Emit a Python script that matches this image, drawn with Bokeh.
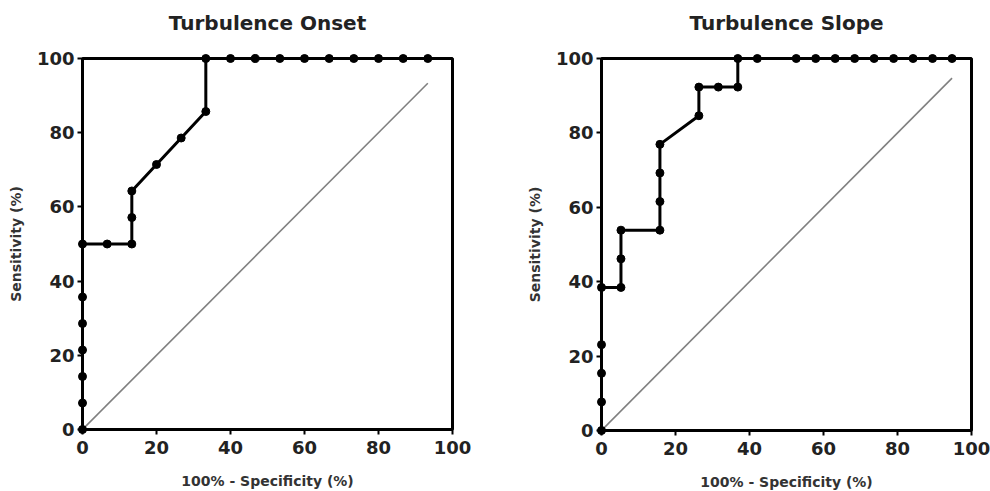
from bokeh.plotting import figure
from bokeh.layouts import row
from bokeh.models import FixedTicker, Range1d, Title
from bokeh.embed import file_html
from bokeh.resources import INLINE

titles = ["Turbulence Onset", "Turbulence Slope"]
x_label = "100% - Specificity (%)"
y_label = "Sensitivity (%)"
ticks = [0, 20, 40, 60, 80, 100]

onset_fpr = [0, 0, 0, 0, 0, 0, 0, 6.67, 13.33, 13.33, 13.33, 20.0, 26.67, 33.33, 33.33,
             40.0, 46.67, 53.33, 60.0, 66.67, 73.33, 80.0, 86.67, 93.33]
onset_tpr = [0, 7.14, 14.29, 21.43, 28.57, 35.71, 50.0, 50.0, 50.0, 57.14, 64.29, 71.43, 78.57, 85.71, 100,
             100, 100, 100, 100, 100, 100, 100, 100, 100]
onset_diag = [0, 93.33]

slope_fpr = [0, 0, 0, 0, 0, 5.26, 5.26, 5.26, 15.79, 15.79, 15.79, 15.79, 26.32, 26.32, 31.58, 36.84, 36.84,
             42.11, 52.63, 57.89, 63.16, 68.42, 73.68, 78.95, 84.21, 89.47, 94.74]
slope_tpr = [0, 7.69, 15.38, 23.08, 38.46, 38.46, 46.15, 53.85, 53.85, 61.54, 69.23, 76.92, 84.62, 92.31, 92.31, 92.31, 100,
             100, 100, 100, 100, 100, 100, 100, 100, 100, 100]
slope_diag = [0, 94.74]

FONT = "DejaVu Sans"


def make_panel(title, fpr, tpr, diag, min_left, min_right, min_top, frame_h):
    p = figure(frame_width=370, frame_height=frame_h,
               x_range=Range1d(0, 100), y_range=Range1d(0, 100),
               output_backend="svg", toolbar_location=None,
               min_border_left=min_left, min_border_right=min_right,
               min_border_top=min_top, min_border_bottom=0,
               background_fill_color="white", border_fill_color="white")
    p.grid.visible = False
    p.outline_line_color = "black"
    p.outline_line_width = 3

    # blank spacer title (closest to frame) lifts the real title
    p.add_layout(Title(text=" ", text_font_size="10px", standoff=11), "above")
    p.add_layout(Title(text=title, align="center", standoff=0,
                       text_font=FONT, text_font_size="20px",
                       text_font_style="bold", text_color="#222222"), "above")

    p.line(diag, diag, color="#808080", line_width=1.6)
    p.line(fpr, tpr, color="black", line_width=3, level="overlay")
    p.scatter(fpr, tpr, size=8, color="black", level="overlay")

    for ax in p.axis:
        ax.ticker = FixedTicker(ticks=ticks)
        ax.axis_line_width = 3
        ax.axis_line_color = "black"
        ax.major_tick_line_width = 2
        ax.major_tick_in = 0
        ax.major_tick_out = 5
        ax.minor_tick_line_color = None
        ax.major_label_text_font = FONT
        ax.major_label_text_font_size = "18px"
        ax.major_label_text_font_style = "bold"
        ax.major_label_text_color = "#222222"
        ax.axis_label_text_font = FONT
        ax.axis_label_text_font_size = "14px"
        ax.axis_label_text_font_style = "bold"
        ax.axis_label_text_color = "#333333"
    p.xaxis.axis_label = x_label
    p.yaxis.axis_label = y_label
    p.xaxis.major_label_standoff = 6
    p.yaxis.major_label_standoff = 3
    p.xaxis.axis_label_standoff = 16
    p.yaxis.axis_label_standoff = 10
    return p


p1 = make_panel(titles[0], onset_fpr, onset_tpr, onset_diag, 82, 48, 58, 371)
p2 = make_panel(titles[1], slope_fpr, slope_tpr, slope_diag, 101, 19, 56, 372)

layout = row(p1, p2)
open("out.html", "w").write(file_html(layout, INLINE))
